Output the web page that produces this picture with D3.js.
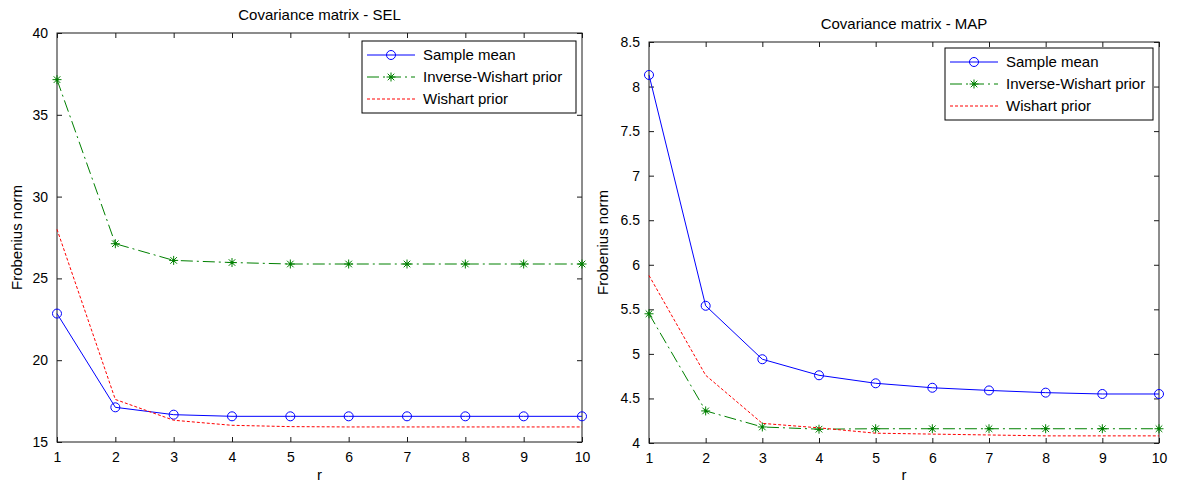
<!DOCTYPE html>
<html>
<head>
<meta charset="utf-8">
<script src="https://cdn.jsdelivr.net/npm/d3@7"></script>
<style>
  body { margin: 0; background: #fff; }
  text { font-family: "Liberation Sans", Arial, sans-serif; fill: #000; }
</style>
</head>
<body>
<svg class="chart"></svg>
<script>
// Tamaño total de la figura
var W = 1182, H = 486;

// Valores de r (eje x)
var rValues = [1, 2, 3, 4, 5, 6, 7, 8, 9, 10];

// Panel izquierdo - SEL
var selSampleMean = [22.85, 17.12, 16.67, 16.57, 16.57, 16.57, 16.57, 16.57, 16.57, 16.57];
var selInvWishart = [37.15, 27.12, 26.10, 25.97, 25.88, 25.88, 25.88, 25.88, 25.88, 25.88];
var selWishart    = [28.00, 17.60, 16.33, 16.02, 15.94, 15.92, 15.92, 15.92, 15.92, 15.92];
var selTicks = [15, 20, 25, 30, 35, 40];

// Panel derecho - MAP
var mapSampleMean = [8.13, 5.54, 4.94, 4.76, 4.67, 4.62, 4.59, 4.565, 4.55, 4.55];
var mapInvWishart = [5.45, 4.36, 4.18, 4.155, 4.16, 4.16, 4.16, 4.16, 4.16, 4.16];
var mapWishart    = [5.88, 4.76, 4.22, 4.17, 4.11, 4.10, 4.09, 4.08, 4.08, 4.08];
var mapTicks = [4, 4.5, 5, 5.5, 6, 6.5, 7, 7.5, 8, 8.5];

var seriesNames = ["Sample mean", "Inverse-Wishart prior", "Wishart prior"];

// Estilo de cada serie (color, guiones, marcador)
var styles = [
  {color: "#0000ff", dash: null,         marker: "circle"},
  {color: "#008000", dash: "12,4,2,4",   marker: "star"},
  {color: "#ff0000", dash: "3,2",        marker: null}
];

var svg = d3.select(".chart").attr("width", W).attr("height", H);

function drawMarker(g, type, color) {
  if (type == "circle") {
    g.append("circle").attr("r", 4.5).attr("fill", "none")
      .attr("stroke", color).attr("stroke-width", 1);
  } else if (type == "star") {
    var s = 4.5, d = 3.3;
    var p = "M" + (-s) + ",0L" + s + ",0M0," + (-s) + "L0," + s +
            "M" + (-d) + "," + (-d) + "L" + d + "," + d +
            "M" + (-d) + "," + d + "L" + d + "," + (-d);
    g.append("path").attr("d", p).attr("stroke", color).attr("stroke-width", 1).attr("fill", "none");
    g.append("circle").attr("r", 1.5).attr("fill", color);
  }
}

function drawPanel(cfg) {
  var x = d3.scaleLinear().domain([1, 10]).range([cfg.left, cfg.right]);
  var y = d3.scaleLinear().domain([cfg.ticks[0], cfg.ticks[cfg.ticks.length - 1]]).range([cfg.bottom, cfg.top]);

  var g = svg.append("g");

  // Marco con ticks hacia adentro (box on)
  g.append("rect")
    .attr("x", cfg.left).attr("y", cfg.top)
    .attr("width", cfg.right - cfg.left).attr("height", cfg.bottom - cfg.top)
    .attr("fill", "none").attr("stroke", "#1a1a1a").attr("stroke-width", 1);

  var yAxis = d3.axisLeft(y).tickValues(cfg.ticks).tickSizeInner(-5).tickSizeOuter(0)
    .tickPadding(9).tickFormat(d3.format("~g"));
  g.append("g").attr("transform", "translate(" + cfg.left + ",0)").call(yAxis);

  var yAxisR = d3.axisRight(y).tickValues(cfg.ticks).tickSizeInner(-5).tickSizeOuter(0).tickFormat("");
  g.append("g").attr("transform", "translate(" + cfg.right + ",0)").call(yAxisR);

  var xAxis = d3.axisBottom(x).tickValues(rValues).tickSizeInner(-5).tickSizeOuter(0).tickPadding(10);
  g.append("g").attr("transform", "translate(0," + cfg.bottom + ")").call(xAxis);

  var xAxisT = d3.axisTop(x).tickValues(rValues).tickSizeInner(-5).tickSizeOuter(0).tickFormat("");
  g.append("g").attr("transform", "translate(0," + cfg.top + ")").call(xAxisT);

  g.selectAll(".domain").remove();
  g.selectAll(".tick line").attr("stroke", "#1a1a1a");
  g.selectAll(".tick text").style("font-size", "14px").attr("fill", "#000");

  // Títulos y etiquetas
  g.append("text")
    .attr("x", (cfg.left + cfg.right) / 2).attr("y", cfg.top - 13)
    .attr("text-anchor", "middle").style("font-size", "15px")
    .text(cfg.title);

  g.append("text")
    .attr("x", (cfg.left + cfg.right) / 2).attr("y", 480)
    .attr("text-anchor", "middle").style("font-size", "15px")
    .text("r");

  g.append("text")
    .attr("transform", "translate(" + (cfg.left - cfg.ylabOff) + "," + ((cfg.top + cfg.bottom) / 2) + ") rotate(-90)")
    .attr("text-anchor", "middle").style("font-size", "15px")
    .text("Frobenius norm");

  // Series
  var line = d3.line().x(function(d, i) { return x(rValues[i]); }).y(function(d) { return y(d); });

  cfg.series.forEach(function(vals, k) {
    var st = styles[k];
    g.append("path").datum(vals)
      .attr("d", line)
      .attr("fill", "none")
      .attr("stroke", st.color)
      .attr("stroke-width", 1)
      .attr("stroke-dasharray", st.dash);
    if (st.marker) {
      vals.forEach(function(v, i) {
        var m = g.append("g").attr("transform", "translate(" + x(rValues[i]) + "," + y(v) + ")");
        drawMarker(m, st.marker, st.color);
      });
    }
  });

  // Leyenda
  var lg = g.append("g").attr("transform", "translate(" + cfg.legX + "," + cfg.legY + ")");
  lg.append("rect").attr("width", cfg.legW).attr("height", 72)
    .attr("fill", "#fff").attr("stroke", "#000").attr("stroke-width", 1);
  seriesNames.forEach(function(name, k) {
    var st = styles[k];
    var ry = 14 + k * 22;
    lg.append("line").attr("x1", 5).attr("x2", 53).attr("y1", ry).attr("y2", ry)
      .attr("stroke", st.color).attr("stroke-width", 1).attr("stroke-dasharray", st.dash);
    if (st.marker) {
      drawMarker(lg.append("g").attr("transform", "translate(29," + ry + ")"), st.marker, st.color);
    }
    lg.append("text").attr("x", 61).attr("y", ry + 5).style("font-size", "15px").text(name);
  });
}

drawPanel({
  title: "Covariance matrix - SEL",
  left: 57, right: 582, top: 33, bottom: 442,
  ticks: selTicks, ylabOff: 35,
  series: [selSampleMean, selInvWishart, selWishart],
  legX: 362, legY: 41, legW: 214
});

drawPanel({
  title: "Covariance matrix - MAP",
  left: 649, right: 1159, top: 42, bottom: 443,
  ticks: mapTicks, ylabOff: 41,
  series: [mapSampleMean, mapInvWishart, mapWishart],
  legX: 945, legY: 48, legW: 208
});
</script>
</body>
</html>
